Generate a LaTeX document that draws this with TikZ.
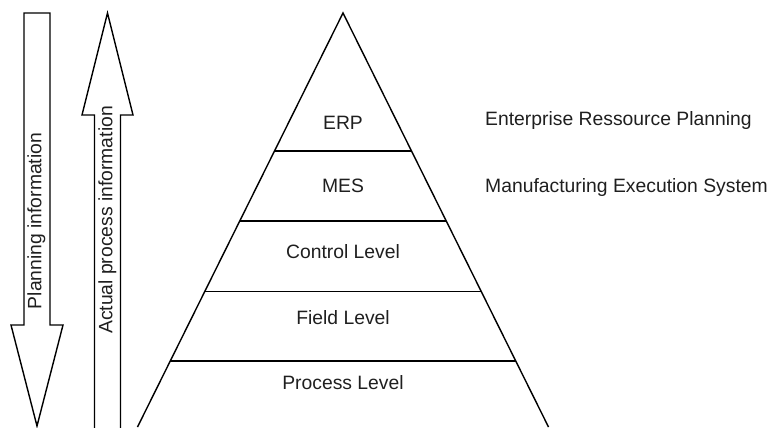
\documentclass[tikz,border=0pt]{standalone}
\usepackage{fontspec}
\setmainfont{Liberation Sans}
\usetikzlibrary{calc}

\tikzset{
  lvl/.style={font=\fontsize{11}{13}\selectfont, text=black!88, anchor=base},
  note/.style={lvl, anchor=base west},
  flow/.style={line width=0.8pt, line join=miter},
}

\begin{document}
\begin{tikzpicture}
  \clip (0,0) rectangle (15.34,8.54);
  % pyramid with its levels
  \coordinate (top) at (6.86,8.28);
  \coordinate (bl) at (2.75,0);
  \coordinate (br) at (10.97,0);
  \draw[flow] (bl) -- (top) -- (br);
  \foreach \t in {0.333,0.502,0.672,0.841}
    \draw[flow] ($(top)!\t!(bl)$) -- ($(top)!\t!(br)$);
  \node[lvl] (erp) at (6.86,5.94) {ERP};
  \node[lvl] (mes) at (6.86,4.70) {MES};
  \node[lvl] (ctrl) at (6.86,3.38) {Control Level};
  \node[lvl] (field) at (6.86,2.06) {Field Level};
  \node[lvl] (proc) at (6.86,0.76) {Process Level};
  \node[note] (erptxt) at (9.58,6.02) {Enterprise Ressource Planning};
  \node[note] (mestxt) at (9.58,4.70) {Manufacturing Execution System};
  % big arrows on the left
  \draw[flow] (0.48,8.28) -- (1.0,8.28) -- (1.0,2.04) -- (1.26,2.04) -- (0.74,0.02)
    -- (0.22,2.04) -- (0.48,2.04) -- cycle;
  \draw[flow] (1.89,-0.2) -- (1.89,6.24) -- (1.64,6.24) -- (2.15,8.28) -- (2.66,6.24)
    -- (2.41,6.24) -- (2.41,-0.2);
  \node[lvl, anchor=center, rotate=90] (plan) at (0.73,4.12) {Planning information};
  \node[lvl, anchor=center, rotate=90] (actual) at (2.15,4.14) {Actual process information};
\end{tikzpicture}
\end{document}
